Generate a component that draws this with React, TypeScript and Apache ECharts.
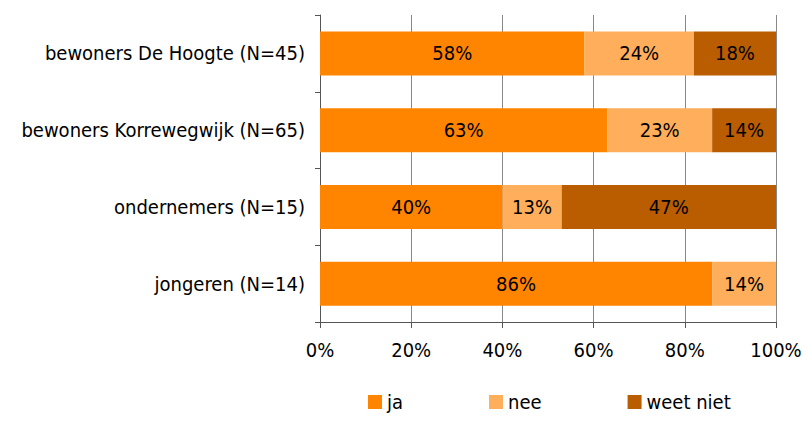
import React, { useEffect, useRef } from "react";
import * as echarts from "echarts";

const categories = [
  "bewoners De Hoogte (N=45)",
  "bewoners Korrewegwijk (N=65)",
  "ondernemers (N=15)",
  "jongeren (N=14)",
];
const seriesNames = ["ja", "nee", "weet niet"];
const jaValues = [58, 63, 40, 86];
const neeValues = [24, 23, 13, 14];
const weetNietValues: (number | null)[] = [18, 14, 47, null];
const colors = ["#FF8500", "#FFAE5C", "#B95D00"];

const FONT = "DejaVu Sans Condensed";
const FS = 20;

export default function App() {
  const ref = useRef<HTMLDivElement>(null);
  useEffect(() => {
    if (!ref.current) return;
    const chart = echarts.init(ref.current, null, { renderer: "svg" });
    const mk = (name: string, data: (number | null)[], color: string) => ({
      name,
      type: "bar",
      stack: "total",
      data,
      barWidth: 44,
      itemStyle: { color },
      label: {
        show: true,
        position: "inside",
        formatter: (p: any) => (p.value == null ? "" : p.value + "%"),
        color: "#000",
        fontFamily: FONT,
        fontSize: FS,
      },
    });
    chart.setOption({
      animation: false,
      textStyle: { fontFamily: FONT },
      grid: { left: 320, right: 31, top: 15, bottom: 99, containLabel: false },
      legend: {
        data: seriesNames,
        left: 368,
        top: 392,
        padding: 0,
        itemWidth: 14,
        itemHeight: 14,
        itemGap: 86,
        icon: "rect",
        textStyle: { fontFamily: FONT, fontSize: FS, color: "#000", lineHeight: 20 },
      },
      xAxis: {
        type: "value",
        min: 0,
        max: 100,
        interval: 20,
        axisLine: { show: true, lineStyle: { color: "#555", width: 1 } },
        axisTick: { show: true, length: 6, lineStyle: { color: "#555" } },
        splitLine: { show: true, lineStyle: { color: "#888", width: 1 } },
        axisLabel: {
          formatter: "{value}%",
          color: "#000",
          fontFamily: FONT,
          fontSize: FS,
          margin: 18,
        },
      },
      yAxis: {
        type: "category",
        data: categories,
        inverse: true,
        axisLine: { show: true, lineStyle: { color: "#555", width: 1 } },
        axisTick: { show: true, length: 5, lineStyle: { color: "#555" } },
        axisLabel: {
          color: "#000",
          fontFamily: FONT,
          fontSize: FS,
          margin: 15,
        },
      },
      series: [
        mk(seriesNames[0], jaValues, colors[0]),
        mk(seriesNames[1], neeValues, colors[1]),
        mk(seriesNames[2], weetNietValues, colors[2]),
      ],
    });
    return () => chart.dispose();
  }, []);
  return <div ref={ref} style={{ width: 807, height: 421, position: "absolute", left: 0, top: 0 }} />;
}
